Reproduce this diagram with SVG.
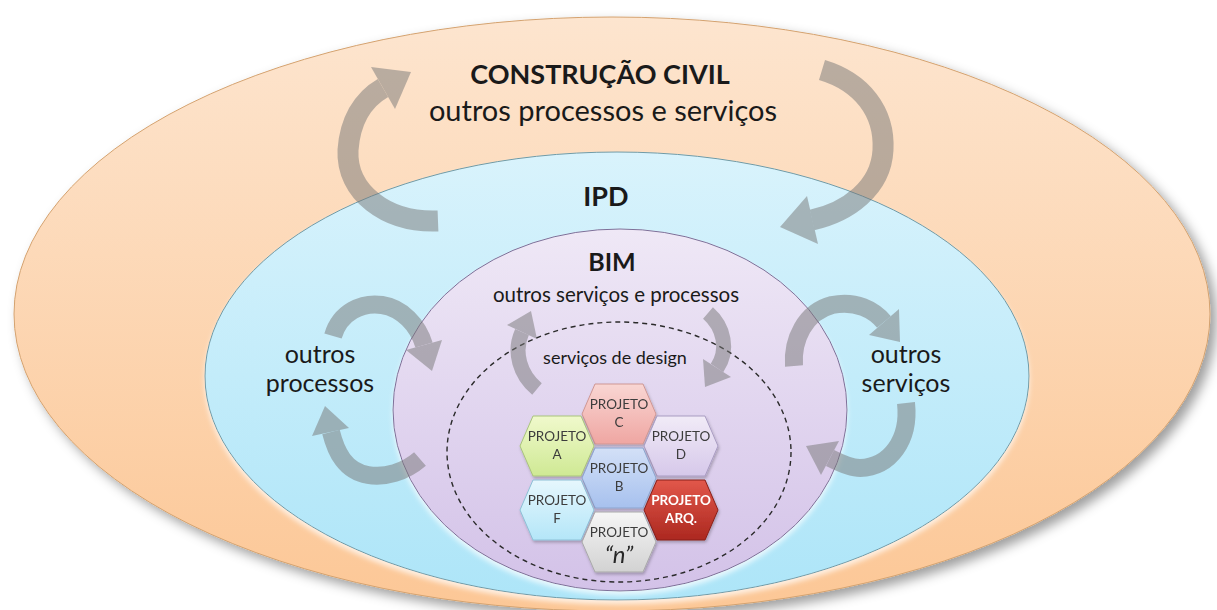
<svg xmlns="http://www.w3.org/2000/svg" width="1217" height="610" viewBox="0 0 1217 610">
  <defs>
    <linearGradient id="gOuter" x1="0" y1="0" x2="0" y2="1">
      <stop offset="0" stop-color="#fde5cf"/>
      <stop offset="1" stop-color="#fcc796"/>
    </linearGradient>
    <linearGradient id="gIpd" x1="0" y1="0" x2="0" y2="1">
      <stop offset="0" stop-color="#d9f3fc"/>
      <stop offset="1" stop-color="#ade5f8"/>
    </linearGradient>
    <linearGradient id="gBim" x1="0" y1="0" x2="0" y2="1">
      <stop offset="0" stop-color="#efe8f6"/>
      <stop offset="1" stop-color="#d3c2e8"/>
    </linearGradient>
    <linearGradient id="gHexA" x1="0" y1="0" x2="0" y2="1">
      <stop offset="0" stop-color="#f0f9cc"/>
      <stop offset="1" stop-color="#cfe994"/>
    </linearGradient>
    <linearGradient id="gHexB" x1="0" y1="0" x2="0" y2="1">
      <stop offset="0" stop-color="#d3e0f7"/>
      <stop offset="1" stop-color="#a7c1ee"/>
    </linearGradient>
    <linearGradient id="gHexC" x1="0" y1="0" x2="0" y2="1">
      <stop offset="0" stop-color="#f9d6d3"/>
      <stop offset="1" stop-color="#efa6a2"/>
    </linearGradient>
    <linearGradient id="gHexD" x1="0" y1="0" x2="0" y2="1">
      <stop offset="0" stop-color="#f1ebf7"/>
      <stop offset="1" stop-color="#d6c8ea"/>
    </linearGradient>
    <linearGradient id="gHexF" x1="0" y1="0" x2="0" y2="1">
      <stop offset="0" stop-color="#e6f7fd"/>
      <stop offset="1" stop-color="#b4e6f8"/>
    </linearGradient>
    <linearGradient id="gHexArq" x1="0" y1="0" x2="0" y2="1">
      <stop offset="0" stop-color="#e2574a"/>
      <stop offset="1" stop-color="#ac2820"/>
    </linearGradient>
    <linearGradient id="gHexN" x1="0" y1="0" x2="0" y2="1">
      <stop offset="0" stop-color="#f6f6f6"/>
      <stop offset="1" stop-color="#d2d2d2"/>
    </linearGradient>
    <filter id="dropShadow" x="-5%" y="-5%" width="112%" height="118%">
      <feDropShadow dx="6" dy="6" stdDeviation="6" flood-color="#000" flood-opacity="0.38"/>
    </filter>
    <filter id="ringGlow" x="-5%" y="-5%" width="110%" height="115%">
      <feDropShadow dx="0" dy="4" stdDeviation="2.5" flood-color="#ffffff" flood-opacity="0.7"/>
    </filter>
    <filter id="hexShadow" x="-20%" y="-20%" width="140%" height="150%">
      <feDropShadow dx="1" dy="2" stdDeviation="1.5" flood-color="#000" flood-opacity="0.25"/>
    </filter>
    <polygon id="hex" points="-37,0 -24,-30 24,-30 37,0 24,30 -24,30"/>
  </defs>

  <style>
    text { font-family: Lato, "Open Sans", "Liberation Sans", sans-serif; fill: #1a1a1a; text-anchor: middle; }
    .heading { font-weight: bold; }
    .side { font-size: 25px; }
    .band { fill: none; stroke: #777777; stroke-linecap: butt; }
    .head { fill: #777777; }
    .hex-label { font-size: 13.5px; fill: #3c3c3c; }
    .hex-light { font-weight: bold; fill: #ffffff; }
    .hex-n { font-size: 24px; font-style: italic; fill: #262626; }
  </style>

  <!-- Nested scopes -->
  <g id="construcao-civil">
    <ellipse cx="612" cy="314" rx="598" ry="297" fill="url(#gOuter)" stroke="#d4a26f" stroke-width="1" filter="url(#dropShadow)"/>
  </g>

  <g id="ipd">
    <ellipse cx="617" cy="376" rx="412" ry="224" fill="url(#gIpd)" stroke="#6f9aa6" stroke-width="1" filter="url(#ringGlow)"/>
  </g>

  <g id="bim">
    <ellipse cx="620" cy="410" rx="227" ry="181" fill="url(#gBim)" stroke="#7d6f98" stroke-width="1" filter="url(#ringGlow)"/>
  </g>

  <g id="servicos-design">
    <ellipse cx="619" cy="452" rx="172" ry="130" fill="none" stroke="#2a2a2a" stroke-width="1.4" stroke-dasharray="5 4"/>
  </g>

  <!-- Circular flow arrows -->
  <g id="connectors">
    <g id="arrow-cc-left" opacity="0.5">
      <path class="band" stroke-width="21" d="M438,221 C386,223 346,192 348,150 C350,122 362,100 383,88"/>
      <polygon class="head" points="371,67 411,72 395,109"/>
    </g>
    <g id="arrow-cc-right" opacity="0.5">
      <path class="band" stroke-width="21" d="M822,70 C862,82 885,112 883,150 C881,188 848,212 812,220"/>
      <polygon class="head" points="807,196 780,227 818,244"/>
    </g>
    <g id="arrow-proc-top" opacity="0.5">
      <path class="band" stroke-width="18" d="M333,336 C340,312 362,302 382,305 C402,308 418,325 424,345"/>
      <polygon class="head" points="442,340 432,371 406,350"/>
    </g>
    <g id="arrow-proc-bottom" opacity="0.5">
      <path class="band" stroke-width="18" d="M420,459 C405,472 385,478 368,475 C345,471 336,452 331,432"/>
      <polygon class="head" points="349,428 325,406 312,436"/>
    </g>
    <g id="arrow-serv-top" opacity="0.5">
      <path class="band" stroke-width="18" d="M794,366 C792,340 805,312 832,305 C856,300 874,310 884,322"/>
      <polygon class="head" points="899,309 900,342 869,335"/>
    </g>
    <g id="arrow-serv-bottom" opacity="0.5">
      <path class="band" stroke-width="18" d="M906,403 C910,440 890,467 860,468 C852,468 842,464 830,458"/>
      <polygon class="head" points="839,441 806,446 821,475"/>
    </g>
    <g id="arrow-bim-left" opacity="0.5">
      <path class="band" stroke-width="15" d="M537,389 C520,375 513,352 522,332"/>
      <polygon class="head" points="537,339 531,311 507,325"/>
    </g>
    <g id="arrow-bim-right" opacity="0.5">
      <path class="band" stroke-width="15" d="M708,313 C724,327 729,350 717,368"/>
      <polygon class="head" points="731,377 705,387 703,359"/>
    </g>
  </g>

  <!-- Scope labels -->
  <g id="labels">
    <text class="heading" x="600" y="84" font-size="27">CONSTRUÇÃO CIVIL</text>
    <text x="603" y="121" font-size="29">outros processos e serviços</text>
    <text class="heading" x="606" y="206" font-size="27">IPD</text>
    <text class="heading" x="612" y="271" font-size="25">BIM</text>
    <text x="616" y="302" font-size="20.5">outros serviços e processos</text>
    <text x="615" y="364" font-size="18">serviços de design</text>
    <text class="side" x="320" y="363">outros</text>
    <text class="side" x="320" y="392">processos</text>
    <text class="side" x="906" y="363">outros</text>
    <text class="side" x="906" y="392">serviços</text>
  </g>

  <!-- Design disciplines -->
  <g id="projeto-c" filter="url(#hexShadow)">
    <use href="#hex" x="619" y="414" fill="url(#gHexC)" stroke="#cf9794"/>
    <text class="hex-label" x="619" y="409">PROJETO</text>
    <text class="hex-label" x="619" y="427">C</text>
  </g>
  <g id="projeto-a" filter="url(#hexShadow)">
    <use href="#hex" x="557" y="446" fill="url(#gHexA)" stroke="#a9c47c"/>
    <text class="hex-label" x="557" y="441">PROJETO</text>
    <text class="hex-label" x="557" y="459">A</text>
  </g>
  <g id="projeto-d" filter="url(#hexShadow)">
    <use href="#hex" x="681" y="446" fill="url(#gHexD)" stroke="#a99cc2"/>
    <text class="hex-label" x="681" y="441">PROJETO</text>
    <text class="hex-label" x="681" y="459">D</text>
  </g>
  <g id="projeto-b" filter="url(#hexShadow)">
    <use href="#hex" x="619" y="478" fill="url(#gHexB)" stroke="#8ca5cf"/>
    <text class="hex-label" x="619" y="473">PROJETO</text>
    <text class="hex-label" x="619" y="491">B</text>
  </g>
  <g id="projeto-f" filter="url(#hexShadow)">
    <use href="#hex" x="557" y="510" fill="url(#gHexF)" stroke="#8dc0d6"/>
    <text class="hex-label" x="557" y="505">PROJETO</text>
    <text class="hex-label" x="557" y="523">F</text>
  </g>
  <g id="projeto-arq" filter="url(#hexShadow)">
    <use href="#hex" x="681" y="510" fill="url(#gHexArq)" stroke="#8a1f18"/>
    <text class="hex-label hex-light" x="681" y="505">PROJETO</text>
    <text class="hex-label hex-light" x="681" y="523">ARQ.</text>
  </g>
  <g id="projeto-n" filter="url(#hexShadow)">
    <use href="#hex" x="619" y="542" fill="url(#gHexN)" stroke="#a9a9a9"/>
    <text class="hex-label" x="619" y="537">PROJETO</text>
    <text class="hex-label hex-n" x="619" y="563">“n”</text>
  </g>
</svg>
